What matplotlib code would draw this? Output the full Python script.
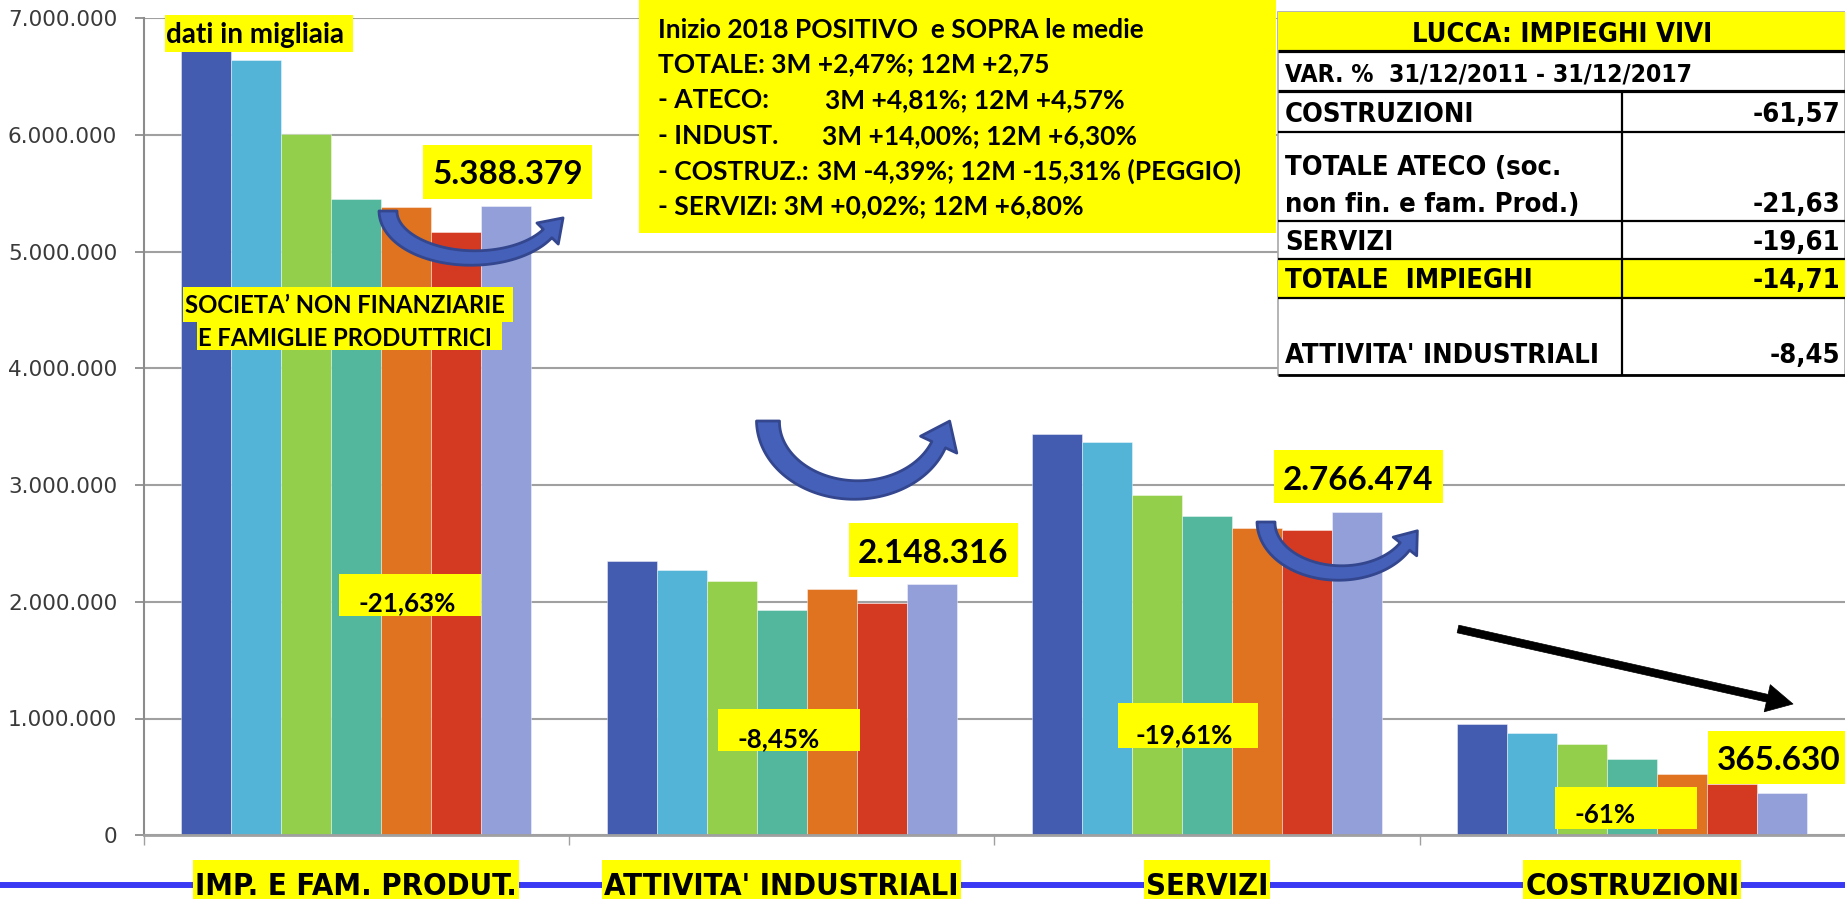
import matplotlib
matplotlib.use('Agg')
import matplotlib.pyplot as plt
import numpy as np
from matplotlib import font_manager as fm
from matplotlib.patches import Rectangle, Polygon, FancyArrowPatch
from matplotlib.lines import Line2D
from matplotlib import transforms

W, H = 1845, 899

# ---------------- data ----------------
categories = ["IMP. E FAM. PRODUT.", "ATTIVITA' INDUSTRIALI", "SERVIZI", "COSTRUZIONI"]
s2011 = [6875560, 2346600, 3441300, 951400]
s2012 = [6640000, 2270000, 3369000, 873000]
s2013 = [6006000, 2178000, 2915000, 781000]
s2014 = [5454000, 1932000, 2738000, 656000]
s2015 = [5383000, 2107000, 2632000, 527000]
s2016 = [5166000, 1992000, 2618000, 440000]
s2017 = [5388379, 2148316, 2766474, 365630]
bar_colors = ['#445CB0', '#53B4D8', '#93CF4B', '#52B79D', '#E0731F', '#D43A21', '#929FD8']
yticks = [0, 1000000, 2000000, 3000000, 4000000, 5000000, 6000000, 7000000]
pct_labels = ["-21,63%", "-8,45%", "-19,61%", "-61%"]
note_lines = ["Inizio 2018 POSITIVO  e SOPRA le medie",
              "TOTALE: 3M +2,47%; 12M +2,75",
              ("- ATECO:", "3M +4,81%; 12M +4,57%"),
              ("- INDUST.", "3M +14,00%; 12M +6,30%"),
              ("- COSTRUZ.:", "3M -4,39%; 12M -15,31% (PEGGIO)"),
              "- SERVIZI: 3M +0,02%; 12M +6,80%"]
table_title = "LUCCA: IMPIEGHI VIVI"
table_sub = "VAR. %  31/12/2011 - 31/12/2017"
table_labels = ["COSTRUZIONI", "TOTALE ATECO (soc.\nnon fin. e fam. Prod.)", "SERVIZI",
                "TOTALE  IMPIEGHI", "ATTIVITA' INDUSTRIALI"]
table_values = ["-61,57", "-21,63", "-19,61", "-14,71", "-8,45"]
note_units = "dati in migliaia"
note_soc = ["SOCIETA\u2019 NON FINANZIARIE", "E FAMIGLIE PRODUTTRICI"]


def fmt_it(v):
    return f"{int(round(v)):,}".replace(",", ".")


# ---------------- fonts ----------------
def _w(f):
    w = f.weight
    if isinstance(w, str):
        w = fm.weight_dict.get(w, 400)
    return w


def pick_narrow_bold():
    ttf = fm.fontManager.ttflist
    prefs = [
        lambda f: f.name == 'Liberation Sans Narrow',
        lambda f: f.name.startswith('DejaVu Sans') and ('Condensed' in f.name or f.stretch == 'condensed') and 'Mono' not in f.name,
        lambda f: 'Condensed' in f.name or 'Narrow' in f.name or f.stretch in ('condensed', 'semi-condensed', 'extra-condensed'),
    ]
    for p in prefs:
        for f in ttf:
            try:
                if p(f) and _w(f) >= 600 and f.style == 'normal':
                    return fm.FontProperties(fname=f.fname)
            except Exception:
                pass
    return fm.FontProperties(family=['Roboto', 'Liberation Sans', 'DejaVu Sans'], weight='bold')


NARROW = pick_narrow_bold()
LATO = fm.FontProperties(family=['Lato', 'DejaVu Sans'], weight='bold')

# ---------------- figure ----------------
fig = plt.figure(figsize=(W / 100, H / 100), dpi=100)
fig.patch.set_facecolor('white')
ax = fig.add_axes([143.6 / W, 1 - 835.2 / H, (W - 143.6) / W, (835.2 - 18.3) / H])

series = [s2011, s2012, s2013, s2014, s2015, s2016, s2017]
n = len(series)
bw = 0.1175
x = np.arange(len(categories))
for i, (vals, c) in enumerate(zip(series, bar_colors)):
    ax.bar(x + (i - (n - 1) / 2) * bw, vals, width=bw, color=c,
           edgecolor=(1, 1, 1, 0.5), linewidth=0.6, zorder=2)

ax.set_xlim(-0.5, 3.5)
ax.set_ylim(0, 7000000)
ax.set_yticks(yticks)
ax.set_yticklabels([fmt_it(v) for v in yticks])
ax.yaxis.grid(True, color='#A0A0A0', lw=1.5)
ax.set_axisbelow(True)
ax.tick_params(axis='y', length=6.5, width=1.3, color='#8C8C8C', pad=12.5,
               labelsize=15.6, labelcolor='#3a3a3a')
ax.set_xticks([-0.5, 0.5, 1.5, 2.5])
ax.set_xticklabels([])
ax.tick_params(axis='x', length=7.5, width=1.0, color='#A0A0A0')
for s in ['top', 'right']:
    ax.spines[s].set_visible(False)
ax.spines['left'].set_color('#8C8C8C')
ax.spines['left'].set_linewidth(1.5)
ax.spines['bottom'].set_color('#A0A0A0')
ax.spines['bottom'].set_linewidth(2)

R = fig.canvas.get_renderer()


def fx(v):
    return v / W


def fy(v):
    return 1 - v / H


def rect(x0, y0, x1, y1, fc, ec='none', lw=0, z=3):
    fig.add_artist(Rectangle((fx(x0), fy(y1)), (x1 - x0) / W, (y1 - y0) / H,
                             transform=fig.transFigure, fc=fc, ec=ec, lw=lw, zorder=z))


def hline(x0, x1, y, lw, color='black', z=4):
    fig.add_artist(Line2D([fx(x0), fx(x1)], [fy(y), fy(y)], transform=fig.transFigure,
                          color=color, lw=lw, zorder=z, solid_capstyle='butt'))


def vline(x, y0, y1, lw, color='black', z=4):
    fig.add_artist(Line2D([fx(x), fx(x)], [fy(y0), fy(y1)], transform=fig.transFigure,
                          color=color, lw=lw, zorder=z, solid_capstyle='butt'))


def txt(xp, yp, s, fp, size=20, ha='left', va='baseline', color='black', z=6):
    return fig.text(fx(xp), fy(yp), s, fontproperties=fp, fontsize=size, ha=ha, va=va,
                    color=color, zorder=z)


def fit(t, target):
    w = t.get_window_extent(renderer=R).width
    t.set_fontsize(t.get_fontsize() * target / w)
    return t.get_fontsize()


def size_for(s, fp, target):
    t = fig.text(0, 0, s, fontproperties=fp, fontsize=20)
    sz = fit(t, target)
    t.remove()
    return sz


YEL = '#FFFF00'

# ---------------- bottom blue line and category labels ----------------
fig.add_artist(Line2D([0, 1], [fy(885), fy(885)], transform=fig.transFigure,
                      color='#3A3AF5', lw=4.3, zorder=3))
cat_size = size_for(categories[1], NARROW, 355)
blend = transforms.blended_transform_factory(ax.transData, fig.transFigure)
for i, c in enumerate(categories):
    t = fig.text(i, fy(895), c, transform=blend, fontproperties=NARROW, fontsize=cat_size,
                 ha='center', va='baseline', color='black', zorder=6)
    bb = t.get_window_extent(renderer=R)
    rect(bb.x0 - 2, 860, bb.x1 + 2, 899, YEL, z=5)

# ---------------- small annotation boxes ----------------
rect(165, 15, 352.7, 51.7, YEL, z=5)
t = txt(166, 42.7, note_units, LATO)
fit(t, 178)

rect(183.3, 286.7, 513.3, 321.7, YEL, z=5)
rect(196.7, 321.7, 501.7, 350, YEL, z=5)
soc_size = size_for(note_soc[0], LATO, 321)
txt(185, 313.3, note_soc[0], LATO, soc_size)
txt(198, 346.0, note_soc[1], LATO, soc_size)

val_boxes = [(423, 145.3, 591.7, 199, 432, 184.3),
             (849, 523.3, 1017.7, 576.7, 858, 563.3),
             (1274, 450, 1443, 503.3, 1283, 490),
             (1708, 731, 1850, 784.3, 1716.7, 770)]
val_size = size_for(fmt_it(s2017[0]), LATO, 150.7)
for (x0, y0, x1, y1, tx, ty), v in zip(val_boxes, s2017):
    rect(x0, y0, x1, y1, YEL, z=5)
    txt(tx, ty, fmt_it(v), LATO, val_size)

pct_boxes = [(339, 574, 481, 615.7, 359, 611.5),
             (718, 709.3, 860, 750.7, 737.4, 747.0),
             (1118, 702.5, 1258, 748, 1135.5, 743.5),
             (1555, 787.3, 1696.7, 828.7, 1574, 822.7)]
pct_size = size_for(pct_labels[0], LATO, 97)
for (x0, y0, x1, y1, tx, ty), s in zip(pct_boxes, pct_labels):
    rect(x0, y0, x1, y1, YEL, z=5)
    txt(tx, ty, s, LATO, pct_size)

# ---------------- main note box ----------------
rect(639, 0, 1276, 233, YEL, z=5)
note_size = size_for(note_lines[4][1], LATO, 424)
baselines = [38.3, 71.7, 108.3, 144.0, 180.0, 214.0]
rest_x = [None, None, 825, 821.5, 817, None]
for line, yb, rx in zip(note_lines, baselines, rest_x):
    if isinstance(line, tuple):
        txt(658, yb, line[0], LATO, note_size)
        txt(rx, yb, line[1], LATO, note_size)
    else:
        txt(658, yb, line, LATO, note_size)

# ---------------- table ----------------
TX0, TX1 = 1278, 1845
rect(TX0, 11.7, TX1, 375, 'white', ec='#A8A8A8', lw=1.2, z=5)
rect(TX0, 11.7, TX1, 49.6, YEL, z=5)
rect(TX0, 259.6, TX1, 297, YEL, z=5)
for yy, lw in [(50.8, 2.3), (91.0, 2.3), (131.5, 1.6), (220.8, 1.6), (259.2, 1.6),
               (297.5, 1.6), (374.5, 2.0)]:
    hline(TX0, TX1, yy, lw, z=5.5)
vline(1622, 91, 375, 1.6, z=5.5)

title_size = size_for(table_title, NARROW, 299)
txt(1562, 41.7, table_title, NARROW, title_size, ha='center')
sub_size = size_for(table_sub, NARROW, 409)
txt(1285, 81.7, table_sub, NARROW, sub_size)
body_size = size_for(table_labels[4], NARROW, 313)
row_baselines = [[121.7], [175.0, 211.7], [250.0], [288.3], [363.3]]
for lab, val, bls in zip(table_labels, table_values, row_baselines):
    for part, yb in zip(lab.split("\n"), bls):
        txt(1285, yb, part, NARROW, body_size)
    txt(1840, bls[-1], val, NARROW, body_size, ha='right')


# ---------------- curved blue arrows ----------------
def curved_arrow(cx, ytop, a, b, t_end, w0, w1, hl, hw, fc='#4560B8', ec='#33468E'):
    t = np.linspace(np.pi, t_end, 90)
    px = cx + a * np.cos(t)
    py = ytop + b * np.sin(t)
    dx = a * np.sin(t)
    dy = -b * np.cos(t)
    nrm = np.hypot(dx, dy)
    ux, uy = dx / nrm, dy / nrm
    nx, ny = -uy, ux
    w = np.linspace(w0, w1, len(t)) / 2
    L = np.c_[px + nx * w, py + ny * w]
    Rr = np.c_[px - nx * w, py - ny * w]
    ex, ey = px[-1], py[-1]
    head = np.array([(ex + nx[-1] * hw / 2, ey + ny[-1] * hw / 2),
                     (ex + ux[-1] * hl, ey + uy[-1] * hl),
                     (ex - nx[-1] * hw / 2, ey - ny[-1] * hw / 2)])
    pts = np.vstack([L, head, Rr[::-1]])
    pf = np.c_[pts[:, 0] / W, 1 - pts[:, 1] / H]
    fig.add_artist(Polygon(pf, closed=True, transform=fig.transFigure, fc=fc, ec=ec,
                           lw=2, zorder=4.5, joinstyle='round'))


curved_arrow(473, 211, 85, 47, 0.5, 18, 12, 22, 30)
curved_arrow(856, 421, 88, 69, 0.35, 23, 15, 26, 40)
curved_arrow(1340, 522, 74, 51, 0.5, 18, 12, 20, 30)

# ---------------- black straight arrow ----------------
fig.add_artist(FancyArrowPatch((fx(1458), fy(629)), (fx(1793), fy(704)),
                               transform=fig.transFigure,
                               arrowstyle="simple,head_length=0.95,head_width=1.0,tail_width=0.28",
                               mutation_scale=20, fc='black', ec='black', lw=0.5,
                               shrinkA=0, shrinkB=0, zorder=4.5))

fig.savefig('out.png', dpi=100)
